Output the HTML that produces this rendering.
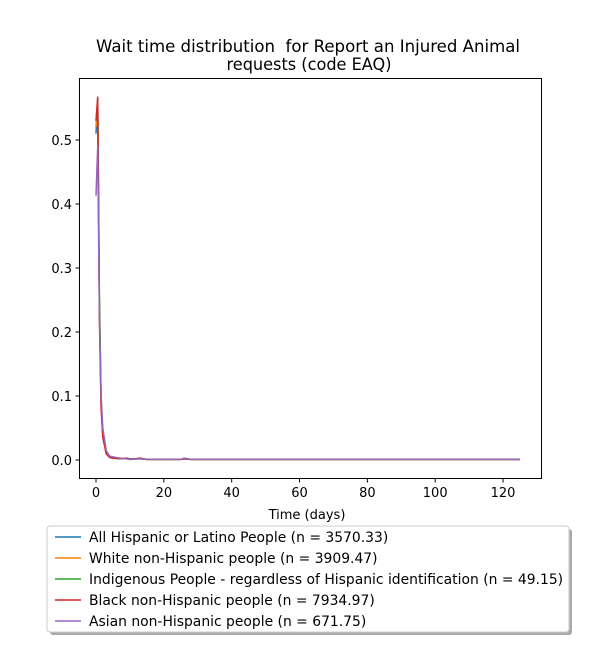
<!DOCTYPE html>
<html><head><meta charset="utf-8"><style>
body{margin:0;background:#fff;font-family:"Liberation Sans","DejaVu Sans",sans-serif}
svg text{font-family:"DejaVu Sans","Liberation Sans",sans-serif;fill:#000}
</style></head><body>
<svg id="c" width="600" height="650" xmlns="http://www.w3.org/2000/svg">
<rect width="600" height="650" fill="#fff"/>
<text x="308" y="52" font-size="16.5" text-anchor="middle" textLength="424" lengthAdjust="spacingAndGlyphs">Wait time distribution&#160; for Report an Injured Animal</text>
<text x="309" y="70" font-size="16.5" text-anchor="middle" textLength="165" lengthAdjust="spacingAndGlyphs">requests (code EAQ)</text>
<g id="plot"></g>
<rect x="79.5" y="78.5" width="462" height="400" fill="none" stroke="#000" stroke-width="1"/>
<text x="307" y="519" font-size="13" text-anchor="middle">Time (days)</text>
<rect x="50" y="529" width="522" height="106" rx="3" fill="#555" opacity="0.5"/>
<rect x="47" y="526" width="522" height="106" rx="3" fill="#fff" stroke="#ccc"/>
<g id="leg"></g>
</svg>
<script>
const xs=[0,0.5,1,1.5,2,3,4,5,7,9,10,13,15,20,25,26,28,30,125];
const hisp=[0.51,0.565,0.24,0.09,0.04,0.012,0.005,0.004,0.002,0.002,0.001,0.002,0.001,0.001,0.001,0.002,0.001,0.001,0.001];
const white=[0.52,0.56,0.25,0.09,0.045,0.013,0.006,0.004,0.003,0.002,0.001,0.002,0.001,0.001,0.001,0.002,0.001,0.001,0.001];
const indig=[0.53,0.56,0.26,0.1,0.04,0.01,0.004,0.003,0.002,0.003,0.002,0.002,0.001,0.001,0.001,0.002,0.001,0.001,0.001];
const black=[0.53,0.567,0.22,0.08,0.035,0.01,0.004,0.003,0.002,0.003,0.001,0.003,0.001,0.001,0.001,0.002,0.001,0.001,0.001];
const asian=[0.413,0.49,0.23,0.1,0.05,0.015,0.006,0.005,0.003,0.002,0.001,0.002,0.001,0.001,0.001,0.003,0.001,0.001,0.001];
const seriesNames=["All Hispanic or Latino People (n = 3570.33)","White non-Hispanic people (n = 3909.47)","Indigenous People - regardless of Hispanic identification (n = 49.15)","Black non-Hispanic people (n = 7934.97)","Asian non-Hispanic people (n = 671.75)"];
const xTicks=[0,20,40,60,80,100,120];
const yTicks=[0,0.1,0.2,0.3,0.4,0.5];
const colors=["#1f77b4","#ff7f0e","#2ca02c","#d62728","#9467bd"];
const series=[hisp,white,indig,black,asian];
const NS="http://www.w3.org/2000/svg";
const X=v=>96+v*3.392, Y=v=>460-v*640;
const plot=document.getElementById('plot');
function mk(t,a,p){const e=document.createElementNS(NS,t);for(const k in a)e.setAttribute(k,a[k]);(p||plot).appendChild(e);return e;}
xTicks.forEach(t=>{
 const l=mk('line',{x1:X(t),x2:X(t),y1:478.5,y2:482.5,stroke:'#000'});
 
 
 const tx=mk('text',{x:X(t),y:497,'font-size':13,'text-anchor':'middle'});tx.textContent=t;
 
 
});
yTicks.forEach(t=>{
 const l=mk('line',{x1:75.5,x2:79.5,y1:Y(t),y2:Y(t),stroke:'#000'});
 
 
 const tx=mk('text',{x:72,y:Y(t)+5,'font-size':13,'text-anchor':'end'});tx.textContent=t.toFixed(1);
 
 
});
series.forEach((s,i)=>{
 const d=s.map((v,j)=>(j?'L':'M')+X(xs[j]).toFixed(2)+' '+Y(v).toFixed(2)).join('');
 const p=mk('path',{d:d,fill:'none',stroke:colors[i],'stroke-width':1.5,'stroke-linejoin':'round'});
 
 
});
const leg=document.getElementById('leg');
seriesNames.forEach((n,i)=>{
 const y=537+i*21;
 const l=mk('line',{x1:55,x2:81,y1:y,y2:y,stroke:colors[i],'stroke-width':1.5},leg);
 
 
 const t=mk('text',{x:89,y:y+5,'font-size':13.9},leg);t.textContent=n;
 
 
});
</script>
</body></html>
